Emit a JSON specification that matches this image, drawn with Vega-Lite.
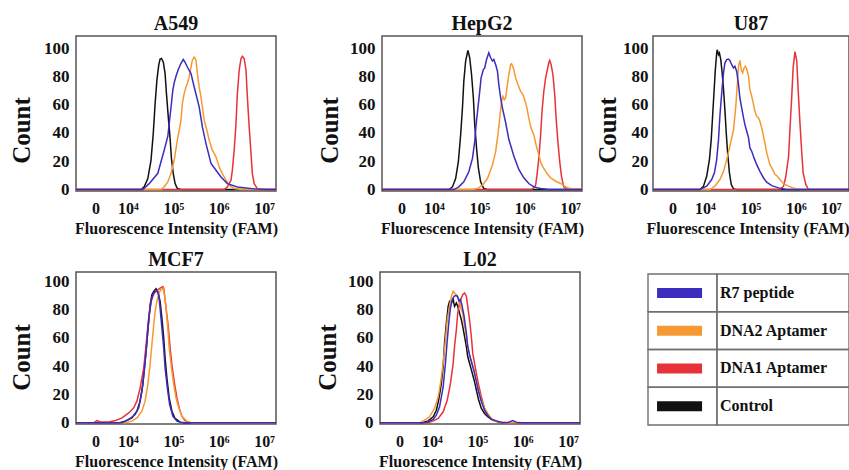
{
  "$schema": "https://vega.github.io/schema/vega-lite/v6.json",
  "padding": {"left": 8, "top": 13, "right": 0, "bottom": 0},
  "background": "white",
  "config": {
    "font": "Liberation Serif",
    "view": {"stroke": "#555555", "strokeWidth": 1.5},
    "axis": {"domain": false, "ticks": false, "grid": false, "labelFont": "Liberation Serif", "labelFontWeight": "bold", "labelColor": "#111111", "titleFont": "Liberation Serif", "titleFontWeight": "bold", "titleColor": "#111111"},
    "axisX": {"labelFontSize": 16, "labelPadding": 9, "titleFontSize": 16, "titlePadding": 4},
    "axisY": {"labelFontSize": 17, "labelPadding": 7, "titleFontSize": 25, "titlePadding": 9},
    "title": {"font": "Liberation Serif", "fontSize": 20, "fontWeight": "bold", "color": "#111111", "offset": 2},
    "line": {"strokeWidth": 1.5}
  },
  "datasets": {
    "curves": [
      {"cell":"A549","series":"Control","x":2.86,"y":0},{"cell":"A549","series":"Control","x":4.29,"y":0},{"cell":"A549","series":"Control","x":4.36,"y":1.9},{"cell":"A549","series":"Control","x":4.44,"y":7.8},{"cell":"A549","series":"Control","x":4.51,"y":20.7},{"cell":"A549","series":"Control","x":4.56,"y":39.6},{"cell":"A549","series":"Control","x":4.6,"y":60.5},{"cell":"A549","series":"Control","x":4.64,"y":77.3},{"cell":"A549","series":"Control","x":4.68,"y":87.9},{"cell":"A549","series":"Control","x":4.71,"y":92.2},{"cell":"A549","series":"Control","x":4.74,"y":92.6},{"cell":"A549","series":"Control","x":4.78,"y":90.2},{"cell":"A549","series":"Control","x":4.82,"y":82},{"cell":"A549","series":"Control","x":4.85,"y":67.8},{"cell":"A549","series":"Control","x":4.89,"y":51.4},{"cell":"A549","series":"Control","x":4.93,"y":36},{"cell":"A549","series":"Control","x":4.96,"y":21.9},{"cell":"A549","series":"Control","x":5,"y":11.3},{"cell":"A549","series":"Control","x":5.04,"y":4.2},{"cell":"A549","series":"Control","x":5.09,"y":0.7},{"cell":"A549","series":"Control","x":5.17,"y":0},{"cell":"A549","series":"Control","x":7.26,"y":0},
      {"cell":"A549","series":"DNA1 Aptamer","x":2.86,"y":0},{"cell":"A549","series":"DNA1 Aptamer","x":6.12,"y":0},{"cell":"A549","series":"DNA1 Aptamer","x":6.19,"y":1.9},{"cell":"A549","series":"DNA1 Aptamer","x":6.27,"y":6.6},{"cell":"A549","series":"DNA1 Aptamer","x":6.3,"y":13.7},{"cell":"A549","series":"DNA1 Aptamer","x":6.34,"y":27.8},{"cell":"A549","series":"DNA1 Aptamer","x":6.38,"y":46.6},{"cell":"A549","series":"DNA1 Aptamer","x":6.41,"y":67.8},{"cell":"A549","series":"DNA1 Aptamer","x":6.45,"y":84.3},{"cell":"A549","series":"DNA1 Aptamer","x":6.49,"y":92.6},{"cell":"A549","series":"DNA1 Aptamer","x":6.52,"y":94.2},{"cell":"A549","series":"DNA1 Aptamer","x":6.56,"y":92.6},{"cell":"A549","series":"DNA1 Aptamer","x":6.6,"y":84.3},{"cell":"A549","series":"DNA1 Aptamer","x":6.63,"y":65.5},{"cell":"A549","series":"DNA1 Aptamer","x":6.67,"y":44.3},{"cell":"A549","series":"DNA1 Aptamer","x":6.71,"y":25.4},{"cell":"A549","series":"DNA1 Aptamer","x":6.74,"y":11.3},{"cell":"A549","series":"DNA1 Aptamer","x":6.78,"y":4.2},{"cell":"A549","series":"DNA1 Aptamer","x":6.85,"y":0.7},{"cell":"A549","series":"DNA1 Aptamer","x":6.93,"y":0},{"cell":"A549","series":"DNA1 Aptamer","x":7.26,"y":0},
      {"cell":"A549","series":"DNA2 Aptamer","x":2.86,"y":0},{"cell":"A549","series":"DNA2 Aptamer","x":4.73,"y":0},{"cell":"A549","series":"DNA2 Aptamer","x":4.8,"y":1.9},{"cell":"A549","series":"DNA2 Aptamer","x":4.88,"y":5.4},{"cell":"A549","series":"DNA2 Aptamer","x":4.95,"y":11.3},{"cell":"A549","series":"DNA2 Aptamer","x":5.02,"y":20.7},{"cell":"A549","series":"DNA2 Aptamer","x":5.09,"y":34.9},{"cell":"A549","series":"DNA2 Aptamer","x":5.17,"y":49},{"cell":"A549","series":"DNA2 Aptamer","x":5.2,"y":60.8},{"cell":"A549","series":"DNA2 Aptamer","x":5.24,"y":67.8},{"cell":"A549","series":"DNA2 Aptamer","x":5.28,"y":72.5},{"cell":"A549","series":"DNA2 Aptamer","x":5.31,"y":74.9},{"cell":"A549","series":"DNA2 Aptamer","x":5.35,"y":79.6},{"cell":"A549","series":"DNA2 Aptamer","x":5.39,"y":86.6},{"cell":"A549","series":"DNA2 Aptamer","x":5.42,"y":91.4},{"cell":"A549","series":"DNA2 Aptamer","x":5.46,"y":93.7},{"cell":"A549","series":"DNA2 Aptamer","x":5.5,"y":91.4},{"cell":"A549","series":"DNA2 Aptamer","x":5.53,"y":81.9},{"cell":"A549","series":"DNA2 Aptamer","x":5.57,"y":72.5},{"cell":"A549","series":"DNA2 Aptamer","x":5.61,"y":65.5},{"cell":"A549","series":"DNA2 Aptamer","x":5.64,"y":58.4},{"cell":"A549","series":"DNA2 Aptamer","x":5.68,"y":49},{"cell":"A549","series":"DNA2 Aptamer","x":5.74,"y":41.9},{"cell":"A549","series":"DNA2 Aptamer","x":5.79,"y":34.9},{"cell":"A549","series":"DNA2 Aptamer","x":5.86,"y":27.8},{"cell":"A549","series":"DNA2 Aptamer","x":5.94,"y":23.1},{"cell":"A549","series":"DNA2 Aptamer","x":6.01,"y":16},{"cell":"A549","series":"DNA2 Aptamer","x":6.08,"y":11.3},{"cell":"A549","series":"DNA2 Aptamer","x":6.16,"y":6.6},{"cell":"A549","series":"DNA2 Aptamer","x":6.23,"y":3.1},{"cell":"A549","series":"DNA2 Aptamer","x":6.34,"y":0.7},{"cell":"A549","series":"DNA2 Aptamer","x":6.49,"y":0},{"cell":"A549","series":"DNA2 Aptamer","x":7.26,"y":0},
      {"cell":"A549","series":"R7 peptide","x":2.86,"y":0},{"cell":"A549","series":"R7 peptide","x":4.33,"y":0},{"cell":"A549","series":"R7 peptide","x":4.47,"y":4.2},{"cell":"A549","series":"R7 peptide","x":4.66,"y":11.5},{"cell":"A549","series":"R7 peptide","x":4.8,"y":27.8},{"cell":"A549","series":"R7 peptide","x":4.88,"y":37.7},{"cell":"A549","series":"R7 peptide","x":4.95,"y":58},{"cell":"A549","series":"R7 peptide","x":4.99,"y":70.2},{"cell":"A549","series":"R7 peptide","x":5.02,"y":75.4},{"cell":"A549","series":"R7 peptide","x":5.06,"y":80.1},{"cell":"A549","series":"R7 peptide","x":5.11,"y":84.8},{"cell":"A549","series":"R7 peptide","x":5.17,"y":89.2},{"cell":"A549","series":"R7 peptide","x":5.22,"y":91.9},{"cell":"A549","series":"R7 peptide","x":5.26,"y":89.8},{"cell":"A549","series":"R7 peptide","x":5.31,"y":86.6},{"cell":"A549","series":"R7 peptide","x":5.39,"y":82},{"cell":"A549","series":"R7 peptide","x":5.46,"y":72.5},{"cell":"A549","series":"R7 peptide","x":5.57,"y":58.4},{"cell":"A549","series":"R7 peptide","x":5.64,"y":44.3},{"cell":"A549","series":"R7 peptide","x":5.72,"y":32.5},{"cell":"A549","series":"R7 peptide","x":5.83,"y":18.4},{"cell":"A549","series":"R7 peptide","x":5.94,"y":13.7},{"cell":"A549","series":"R7 peptide","x":6.05,"y":8.9},{"cell":"A549","series":"R7 peptide","x":6.19,"y":4.2},{"cell":"A549","series":"R7 peptide","x":6.41,"y":1.9},{"cell":"A549","series":"R7 peptide","x":6.78,"y":0.5},{"cell":"A549","series":"R7 peptide","x":7.07,"y":0},{"cell":"A549","series":"R7 peptide","x":7.26,"y":0},

      {"cell":"HepG2","series":"Control","x":2.86,"y":0},{"cell":"HepG2","series":"Control","x":4.33,"y":0},{"cell":"HepG2","series":"Control","x":4.41,"y":1.9},{"cell":"HepG2","series":"Control","x":4.48,"y":7.8},{"cell":"HepG2","series":"Control","x":4.54,"y":19.7},{"cell":"HepG2","series":"Control","x":4.59,"y":38.6},{"cell":"HepG2","series":"Control","x":4.63,"y":57.6},{"cell":"HepG2","series":"Control","x":4.66,"y":76.5},{"cell":"HepG2","series":"Control","x":4.7,"y":90.8},{"cell":"HepG2","series":"Control","x":4.75,"y":98.3},{"cell":"HepG2","series":"Control","x":4.79,"y":93.1},{"cell":"HepG2","series":"Control","x":4.83,"y":81.3},{"cell":"HepG2","series":"Control","x":4.87,"y":64.9},{"cell":"HepG2","series":"Control","x":4.9,"y":45.9},{"cell":"HepG2","series":"Control","x":4.94,"y":29.4},{"cell":"HepG2","series":"Control","x":4.98,"y":15.4},{"cell":"HepG2","series":"Control","x":5.03,"y":5.5},{"cell":"HepG2","series":"Control","x":5.1,"y":0.7},{"cell":"HepG2","series":"Control","x":5.18,"y":0},{"cell":"HepG2","series":"Control","x":7.26,"y":0},
      {"cell":"HepG2","series":"DNA1 Aptamer","x":2.86,"y":0},{"cell":"HepG2","series":"DNA1 Aptamer","x":6.16,"y":0},{"cell":"HepG2","series":"DNA1 Aptamer","x":6.24,"y":3.1},{"cell":"HepG2","series":"DNA1 Aptamer","x":6.27,"y":10.2},{"cell":"HepG2","series":"DNA1 Aptamer","x":6.31,"y":22},{"cell":"HepG2","series":"DNA1 Aptamer","x":6.35,"y":38.6},{"cell":"HepG2","series":"DNA1 Aptamer","x":6.38,"y":55.2},{"cell":"HepG2","series":"DNA1 Aptamer","x":6.42,"y":69.4},{"cell":"HepG2","series":"DNA1 Aptamer","x":6.46,"y":78.9},{"cell":"HepG2","series":"DNA1 Aptamer","x":6.49,"y":83.6},{"cell":"HepG2","series":"DNA1 Aptamer","x":6.53,"y":89.6},{"cell":"HepG2","series":"DNA1 Aptamer","x":6.55,"y":91.2},{"cell":"HepG2","series":"DNA1 Aptamer","x":6.58,"y":88.4},{"cell":"HepG2","series":"DNA1 Aptamer","x":6.62,"y":81.3},{"cell":"HepG2","series":"DNA1 Aptamer","x":6.66,"y":67.1},{"cell":"HepG2","series":"DNA1 Aptamer","x":6.69,"y":50.5},{"cell":"HepG2","series":"DNA1 Aptamer","x":6.73,"y":33.9},{"cell":"HepG2","series":"DNA1 Aptamer","x":6.77,"y":19.7},{"cell":"HepG2","series":"DNA1 Aptamer","x":6.81,"y":9},{"cell":"HepG2","series":"DNA1 Aptamer","x":6.86,"y":1.9},{"cell":"HepG2","series":"DNA1 Aptamer","x":6.93,"y":0},{"cell":"HepG2","series":"DNA1 Aptamer","x":7.26,"y":0},
      {"cell":"HepG2","series":"DNA2 Aptamer","x":2.86,"y":0},{"cell":"HepG2","series":"DNA2 Aptamer","x":4.85,"y":0},{"cell":"HepG2","series":"DNA2 Aptamer","x":4.96,"y":0.7},{"cell":"HepG2","series":"DNA2 Aptamer","x":5.07,"y":3.1},{"cell":"HepG2","series":"DNA2 Aptamer","x":5.18,"y":7.8},{"cell":"HepG2","series":"DNA2 Aptamer","x":5.29,"y":17.3},{"cell":"HepG2","series":"DNA2 Aptamer","x":5.36,"y":26.8},{"cell":"HepG2","series":"DNA2 Aptamer","x":5.41,"y":38.6},{"cell":"HepG2","series":"DNA2 Aptamer","x":5.45,"y":50.5},{"cell":"HepG2","series":"DNA2 Aptamer","x":5.49,"y":62.3},{"cell":"HepG2","series":"DNA2 Aptamer","x":5.52,"y":65.9},{"cell":"HepG2","series":"DNA2 Aptamer","x":5.55,"y":63.5},{"cell":"HepG2","series":"DNA2 Aptamer","x":5.58,"y":64.7},{"cell":"HepG2","series":"DNA2 Aptamer","x":5.61,"y":71.8},{"cell":"HepG2","series":"DNA2 Aptamer","x":5.65,"y":81.3},{"cell":"HepG2","series":"DNA2 Aptamer","x":5.69,"y":88.4},{"cell":"HepG2","series":"DNA2 Aptamer","x":5.71,"y":88.9},{"cell":"HepG2","series":"DNA2 Aptamer","x":5.75,"y":86},{"cell":"HepG2","series":"DNA2 Aptamer","x":5.8,"y":78.9},{"cell":"HepG2","series":"DNA2 Aptamer","x":5.85,"y":74.2},{"cell":"HepG2","series":"DNA2 Aptamer","x":5.91,"y":69.4},{"cell":"HepG2","series":"DNA2 Aptamer","x":5.96,"y":67.1},{"cell":"HepG2","series":"DNA2 Aptamer","x":6,"y":63.5},{"cell":"HepG2","series":"DNA2 Aptamer","x":6.05,"y":57.6},{"cell":"HepG2","series":"DNA2 Aptamer","x":6.09,"y":50.5},{"cell":"HepG2","series":"DNA2 Aptamer","x":6.14,"y":43.4},{"cell":"HepG2","series":"DNA2 Aptamer","x":6.2,"y":38.6},{"cell":"HepG2","series":"DNA2 Aptamer","x":6.25,"y":31.5},{"cell":"HepG2","series":"DNA2 Aptamer","x":6.31,"y":24.4},{"cell":"HepG2","series":"DNA2 Aptamer","x":6.36,"y":18.5},{"cell":"HepG2","series":"DNA2 Aptamer","x":6.42,"y":14.9},{"cell":"HepG2","series":"DNA2 Aptamer","x":6.49,"y":11.4},{"cell":"HepG2","series":"DNA2 Aptamer","x":6.57,"y":8.3},{"cell":"HepG2","series":"DNA2 Aptamer","x":6.68,"y":5.9},{"cell":"HepG2","series":"DNA2 Aptamer","x":6.79,"y":4.3},{"cell":"HepG2","series":"DNA2 Aptamer","x":6.9,"y":1.9},{"cell":"HepG2","series":"DNA2 Aptamer","x":7.01,"y":0.7},{"cell":"HepG2","series":"DNA2 Aptamer","x":7.12,"y":0.3},{"cell":"HepG2","series":"DNA2 Aptamer","x":7.26,"y":0.3},
      {"cell":"HepG2","series":"R7 peptide","x":2.86,"y":0},{"cell":"HepG2","series":"R7 peptide","x":4.44,"y":0},{"cell":"HepG2","series":"R7 peptide","x":4.55,"y":1.9},{"cell":"HepG2","series":"R7 peptide","x":4.66,"y":5.5},{"cell":"HepG2","series":"R7 peptide","x":4.77,"y":12.6},{"cell":"HepG2","series":"R7 peptide","x":4.85,"y":22},{"cell":"HepG2","series":"R7 peptide","x":4.9,"y":33.9},{"cell":"HepG2","series":"R7 peptide","x":4.93,"y":45.7},{"cell":"HepG2","series":"R7 peptide","x":4.97,"y":57.6},{"cell":"HepG2","series":"R7 peptide","x":5.01,"y":69.4},{"cell":"HepG2","series":"R7 peptide","x":5.04,"y":78.9},{"cell":"HepG2","series":"R7 peptide","x":5.09,"y":84.8},{"cell":"HepG2","series":"R7 peptide","x":5.12,"y":86},{"cell":"HepG2","series":"R7 peptide","x":5.16,"y":91.9},{"cell":"HepG2","series":"R7 peptide","x":5.21,"y":96.7},{"cell":"HepG2","series":"R7 peptide","x":5.25,"y":93.1},{"cell":"HepG2","series":"R7 peptide","x":5.29,"y":90.8},{"cell":"HepG2","series":"R7 peptide","x":5.32,"y":91.9},{"cell":"HepG2","series":"R7 peptide","x":5.36,"y":88.4},{"cell":"HepG2","series":"R7 peptide","x":5.4,"y":83.6},{"cell":"HepG2","series":"R7 peptide","x":5.43,"y":74.2},{"cell":"HepG2","series":"R7 peptide","x":5.47,"y":64.7},{"cell":"HepG2","series":"R7 peptide","x":5.51,"y":57.6},{"cell":"HepG2","series":"R7 peptide","x":5.58,"y":47.4},{"cell":"HepG2","series":"R7 peptide","x":5.65,"y":35.5},{"cell":"HepG2","series":"R7 peptide","x":5.76,"y":23.7},{"cell":"HepG2","series":"R7 peptide","x":5.87,"y":14.2},{"cell":"HepG2","series":"R7 peptide","x":5.98,"y":8.3},{"cell":"HepG2","series":"R7 peptide","x":6.09,"y":4.3},{"cell":"HepG2","series":"R7 peptide","x":6.2,"y":1.9},{"cell":"HepG2","series":"R7 peptide","x":6.35,"y":0.7},{"cell":"HepG2","series":"R7 peptide","x":6.53,"y":0},{"cell":"HepG2","series":"R7 peptide","x":7.26,"y":0},

      {"cell":"U87","series":"Control","x":2.86,"y":0},{"cell":"U87","series":"Control","x":3.89,"y":0},{"cell":"U87","series":"Control","x":3.97,"y":2.4},{"cell":"U87","series":"Control","x":4.04,"y":9.4},{"cell":"U87","series":"Control","x":4.1,"y":21.2},{"cell":"U87","series":"Control","x":4.14,"y":35.3},{"cell":"U87","series":"Control","x":4.17,"y":51.8},{"cell":"U87","series":"Control","x":4.2,"y":68.2},{"cell":"U87","series":"Control","x":4.23,"y":84.7},{"cell":"U87","series":"Control","x":4.26,"y":96.5},{"cell":"U87","series":"Control","x":4.27,"y":98.8},{"cell":"U87","series":"Control","x":4.3,"y":95.3},{"cell":"U87","series":"Control","x":4.32,"y":96.5},{"cell":"U87","series":"Control","x":4.35,"y":91.8},{"cell":"U87","series":"Control","x":4.38,"y":82.4},{"cell":"U87","series":"Control","x":4.41,"y":70.6},{"cell":"U87","series":"Control","x":4.44,"y":56.5},{"cell":"U87","series":"Control","x":4.47,"y":40},{"cell":"U87","series":"Control","x":4.5,"y":25.9},{"cell":"U87","series":"Control","x":4.54,"y":11.8},{"cell":"U87","series":"Control","x":4.58,"y":3.5},{"cell":"U87","series":"Control","x":4.63,"y":0.5},{"cell":"U87","series":"Control","x":4.7,"y":0},{"cell":"U87","series":"Control","x":7.26,"y":0},
      {"cell":"U87","series":"DNA1 Aptamer","x":2.86,"y":0},{"cell":"U87","series":"DNA1 Aptamer","x":5.65,"y":0},{"cell":"U87","series":"DNA1 Aptamer","x":5.73,"y":2.4},{"cell":"U87","series":"DNA1 Aptamer","x":5.78,"y":9.4},{"cell":"U87","series":"DNA1 Aptamer","x":5.84,"y":23.5},{"cell":"U87","series":"DNA1 Aptamer","x":5.87,"y":42.4},{"cell":"U87","series":"DNA1 Aptamer","x":5.91,"y":65.9},{"cell":"U87","series":"DNA1 Aptamer","x":5.94,"y":86},{"cell":"U87","series":"DNA1 Aptamer","x":5.98,"y":97.5},{"cell":"U87","series":"DNA1 Aptamer","x":6.02,"y":90.8},{"cell":"U87","series":"DNA1 Aptamer","x":6.05,"y":70.6},{"cell":"U87","series":"DNA1 Aptamer","x":6.09,"y":47.1},{"cell":"U87","series":"DNA1 Aptamer","x":6.13,"y":25.9},{"cell":"U87","series":"DNA1 Aptamer","x":6.16,"y":11.8},{"cell":"U87","series":"DNA1 Aptamer","x":6.22,"y":3.5},{"cell":"U87","series":"DNA1 Aptamer","x":6.27,"y":0.5},{"cell":"U87","series":"DNA1 Aptamer","x":6.35,"y":0},{"cell":"U87","series":"DNA1 Aptamer","x":7.26,"y":0},
      {"cell":"U87","series":"DNA2 Aptamer","x":2.86,"y":0},{"cell":"U87","series":"DNA2 Aptamer","x":4.11,"y":0},{"cell":"U87","series":"DNA2 Aptamer","x":4.22,"y":2.4},{"cell":"U87","series":"DNA2 Aptamer","x":4.33,"y":7.1},{"cell":"U87","series":"DNA2 Aptamer","x":4.41,"y":12.9},{"cell":"U87","series":"DNA2 Aptamer","x":4.48,"y":21.2},{"cell":"U87","series":"DNA2 Aptamer","x":4.55,"y":30.6},{"cell":"U87","series":"DNA2 Aptamer","x":4.63,"y":42.4},{"cell":"U87","series":"DNA2 Aptamer","x":4.68,"y":58.8},{"cell":"U87","series":"DNA2 Aptamer","x":4.71,"y":72.9},{"cell":"U87","series":"DNA2 Aptamer","x":4.74,"y":87.1},{"cell":"U87","series":"DNA2 Aptamer","x":4.77,"y":91.3},{"cell":"U87","series":"DNA2 Aptamer","x":4.8,"y":84.7},{"cell":"U87","series":"DNA2 Aptamer","x":4.83,"y":82.4},{"cell":"U87","series":"DNA2 Aptamer","x":4.86,"y":85.9},{"cell":"U87","series":"DNA2 Aptamer","x":4.89,"y":87.1},{"cell":"U87","series":"DNA2 Aptamer","x":4.92,"y":85.2},{"cell":"U87","series":"DNA2 Aptamer","x":4.96,"y":80},{"cell":"U87","series":"DNA2 Aptamer","x":4.99,"y":70.6},{"cell":"U87","series":"DNA2 Aptamer","x":5.03,"y":65.9},{"cell":"U87","series":"DNA2 Aptamer","x":5.07,"y":60},{"cell":"U87","series":"DNA2 Aptamer","x":5.1,"y":55.3},{"cell":"U87","series":"DNA2 Aptamer","x":5.14,"y":51.8},{"cell":"U87","series":"DNA2 Aptamer","x":5.18,"y":50.6},{"cell":"U87","series":"DNA2 Aptamer","x":5.21,"y":48.2},{"cell":"U87","series":"DNA2 Aptamer","x":5.25,"y":43.5},{"cell":"U87","series":"DNA2 Aptamer","x":5.29,"y":37.6},{"cell":"U87","series":"DNA2 Aptamer","x":5.32,"y":32.9},{"cell":"U87","series":"DNA2 Aptamer","x":5.36,"y":25.9},{"cell":"U87","series":"DNA2 Aptamer","x":5.4,"y":21.2},{"cell":"U87","series":"DNA2 Aptamer","x":5.43,"y":17.6},{"cell":"U87","series":"DNA2 Aptamer","x":5.47,"y":15.3},{"cell":"U87","series":"DNA2 Aptamer","x":5.51,"y":12.9},{"cell":"U87","series":"DNA2 Aptamer","x":5.54,"y":10.6},{"cell":"U87","series":"DNA2 Aptamer","x":5.58,"y":9.9},{"cell":"U87","series":"DNA2 Aptamer","x":5.62,"y":8.2},{"cell":"U87","series":"DNA2 Aptamer","x":5.65,"y":7.1},{"cell":"U87","series":"DNA2 Aptamer","x":5.73,"y":4.2},{"cell":"U87","series":"DNA2 Aptamer","x":5.84,"y":2.4},{"cell":"U87","series":"DNA2 Aptamer","x":5.94,"y":1.2},{"cell":"U87","series":"DNA2 Aptamer","x":6.09,"y":0},{"cell":"U87","series":"DNA2 Aptamer","x":7.26,"y":0},
      {"cell":"U87","series":"R7 peptide","x":2.86,"y":0},{"cell":"U87","series":"R7 peptide","x":3.89,"y":0},{"cell":"U87","series":"R7 peptide","x":4.04,"y":2.4},{"cell":"U87","series":"R7 peptide","x":4.15,"y":7.1},{"cell":"U87","series":"R7 peptide","x":4.21,"y":11.8},{"cell":"U87","series":"R7 peptide","x":4.26,"y":21.2},{"cell":"U87","series":"R7 peptide","x":4.3,"y":35.3},{"cell":"U87","series":"R7 peptide","x":4.33,"y":51.8},{"cell":"U87","series":"R7 peptide","x":4.37,"y":68.2},{"cell":"U87","series":"R7 peptide","x":4.41,"y":82.4},{"cell":"U87","series":"R7 peptide","x":4.44,"y":89.4},{"cell":"U87","series":"R7 peptide","x":4.48,"y":91.8},{"cell":"U87","series":"R7 peptide","x":4.52,"y":92.2},{"cell":"U87","series":"R7 peptide","x":4.55,"y":91.3},{"cell":"U87","series":"R7 peptide","x":4.59,"y":88.2},{"cell":"U87","series":"R7 peptide","x":4.63,"y":85.9},{"cell":"U87","series":"R7 peptide","x":4.66,"y":87.1},{"cell":"U87","series":"R7 peptide","x":4.7,"y":83.5},{"cell":"U87","series":"R7 peptide","x":4.74,"y":74.1},{"cell":"U87","series":"R7 peptide","x":4.77,"y":64.7},{"cell":"U87","series":"R7 peptide","x":4.81,"y":57.6},{"cell":"U87","series":"R7 peptide","x":4.85,"y":50.6},{"cell":"U87","series":"R7 peptide","x":4.88,"y":45.9},{"cell":"U87","series":"R7 peptide","x":4.92,"y":41.2},{"cell":"U87","series":"R7 peptide","x":4.96,"y":36.5},{"cell":"U87","series":"R7 peptide","x":4.99,"y":29.4},{"cell":"U87","series":"R7 peptide","x":5.03,"y":27.1},{"cell":"U87","series":"R7 peptide","x":5.08,"y":22.4},{"cell":"U87","series":"R7 peptide","x":5.14,"y":17.6},{"cell":"U87","series":"R7 peptide","x":5.21,"y":12.9},{"cell":"U87","series":"R7 peptide","x":5.29,"y":8.2},{"cell":"U87","series":"R7 peptide","x":5.36,"y":5.2},{"cell":"U87","series":"R7 peptide","x":5.47,"y":2.8},{"cell":"U87","series":"R7 peptide","x":5.62,"y":1.2},{"cell":"U87","series":"R7 peptide","x":5.8,"y":0},{"cell":"U87","series":"R7 peptide","x":7.26,"y":0},

      {"cell":"MCF7","series":"Control","x":2.86,"y":0},{"cell":"MCF7","series":"Control","x":3.8,"y":0},{"cell":"MCF7","series":"Control","x":3.94,"y":1.2},{"cell":"MCF7","series":"Control","x":4.09,"y":3.5},{"cell":"MCF7","series":"Control","x":4.2,"y":8.2},{"cell":"MCF7","series":"Control","x":4.27,"y":15.3},{"cell":"MCF7","series":"Control","x":4.33,"y":27},{"cell":"MCF7","series":"Control","x":4.38,"y":43.4},{"cell":"MCF7","series":"Control","x":4.42,"y":57.5},{"cell":"MCF7","series":"Control","x":4.46,"y":71.6},{"cell":"MCF7","series":"Control","x":4.49,"y":83.3},{"cell":"MCF7","series":"Control","x":4.53,"y":90.4},{"cell":"MCF7","series":"Control","x":4.57,"y":92.7},{"cell":"MCF7","series":"Control","x":4.62,"y":94.6},{"cell":"MCF7","series":"Control","x":4.66,"y":92.7},{"cell":"MCF7","series":"Control","x":4.71,"y":85.7},{"cell":"MCF7","series":"Control","x":4.75,"y":73.9},{"cell":"MCF7","series":"Control","x":4.79,"y":59.9},{"cell":"MCF7","series":"Control","x":4.82,"y":45.8},{"cell":"MCF7","series":"Control","x":4.86,"y":31.7},{"cell":"MCF7","series":"Control","x":4.91,"y":17.6},{"cell":"MCF7","series":"Control","x":4.97,"y":8.2},{"cell":"MCF7","series":"Control","x":5.04,"y":3.1},{"cell":"MCF7","series":"Control","x":5.15,"y":0.5},{"cell":"MCF7","series":"Control","x":5.26,"y":0},{"cell":"MCF7","series":"Control","x":7.26,"y":0},
      {"cell":"MCF7","series":"DNA1 Aptamer","x":2.86,"y":0},{"cell":"MCF7","series":"DNA1 Aptamer","x":3.25,"y":0},{"cell":"MCF7","series":"DNA1 Aptamer","x":3.32,"y":1.6},{"cell":"MCF7","series":"DNA1 Aptamer","x":3.4,"y":0.7},{"cell":"MCF7","series":"DNA1 Aptamer","x":3.58,"y":0.7},{"cell":"MCF7","series":"DNA1 Aptamer","x":3.73,"y":1.6},{"cell":"MCF7","series":"DNA1 Aptamer","x":3.87,"y":3.5},{"cell":"MCF7","series":"DNA1 Aptamer","x":4.02,"y":7},{"cell":"MCF7","series":"DNA1 Aptamer","x":4.13,"y":10.6},{"cell":"MCF7","series":"DNA1 Aptamer","x":4.2,"y":15.3},{"cell":"MCF7","series":"DNA1 Aptamer","x":4.27,"y":24.6},{"cell":"MCF7","series":"DNA1 Aptamer","x":4.35,"y":38.7},{"cell":"MCF7","series":"DNA1 Aptamer","x":4.41,"y":57.5},{"cell":"MCF7","series":"DNA1 Aptamer","x":4.46,"y":73.9},{"cell":"MCF7","series":"DNA1 Aptamer","x":4.51,"y":85.7},{"cell":"MCF7","series":"DNA1 Aptamer","x":4.55,"y":89.2},{"cell":"MCF7","series":"DNA1 Aptamer","x":4.58,"y":91.5},{"cell":"MCF7","series":"DNA1 Aptamer","x":4.62,"y":92.7},{"cell":"MCF7","series":"DNA1 Aptamer","x":4.66,"y":93.9},{"cell":"MCF7","series":"DNA1 Aptamer","x":4.71,"y":95.1},{"cell":"MCF7","series":"DNA1 Aptamer","x":4.77,"y":96.2},{"cell":"MCF7","series":"DNA1 Aptamer","x":4.79,"y":95.1},{"cell":"MCF7","series":"DNA1 Aptamer","x":4.82,"y":86.9},{"cell":"MCF7","series":"DNA1 Aptamer","x":4.86,"y":76.3},{"cell":"MCF7","series":"DNA1 Aptamer","x":4.9,"y":64.6},{"cell":"MCF7","series":"DNA1 Aptamer","x":4.93,"y":52.8},{"cell":"MCF7","series":"DNA1 Aptamer","x":4.97,"y":41.1},{"cell":"MCF7","series":"DNA1 Aptamer","x":5.02,"y":29.3},{"cell":"MCF7","series":"DNA1 Aptamer","x":5.08,"y":17.6},{"cell":"MCF7","series":"DNA1 Aptamer","x":5.14,"y":9.4},{"cell":"MCF7","series":"DNA1 Aptamer","x":5.19,"y":4.7},{"cell":"MCF7","series":"DNA1 Aptamer","x":5.26,"y":1.6},{"cell":"MCF7","series":"DNA1 Aptamer","x":5.37,"y":0},{"cell":"MCF7","series":"DNA1 Aptamer","x":7.26,"y":0},
      {"cell":"MCF7","series":"DNA2 Aptamer","x":2.86,"y":0},{"cell":"MCF7","series":"DNA2 Aptamer","x":3.94,"y":0},{"cell":"MCF7","series":"DNA2 Aptamer","x":4.09,"y":1.2},{"cell":"MCF7","series":"DNA2 Aptamer","x":4.2,"y":3.5},{"cell":"MCF7","series":"DNA2 Aptamer","x":4.31,"y":8.2},{"cell":"MCF7","series":"DNA2 Aptamer","x":4.38,"y":15.3},{"cell":"MCF7","series":"DNA2 Aptamer","x":4.44,"y":27},{"cell":"MCF7","series":"DNA2 Aptamer","x":4.49,"y":41.1},{"cell":"MCF7","series":"DNA2 Aptamer","x":4.53,"y":55.2},{"cell":"MCF7","series":"DNA2 Aptamer","x":4.57,"y":69.2},{"cell":"MCF7","series":"DNA2 Aptamer","x":4.6,"y":78.6},{"cell":"MCF7","series":"DNA2 Aptamer","x":4.64,"y":85.7},{"cell":"MCF7","series":"DNA2 Aptamer","x":4.68,"y":91.5},{"cell":"MCF7","series":"DNA2 Aptamer","x":4.73,"y":93.9},{"cell":"MCF7","series":"DNA2 Aptamer","x":4.77,"y":95.1},{"cell":"MCF7","series":"DNA2 Aptamer","x":4.81,"y":90.4},{"cell":"MCF7","series":"DNA2 Aptamer","x":4.84,"y":81},{"cell":"MCF7","series":"DNA2 Aptamer","x":4.88,"y":66.9},{"cell":"MCF7","series":"DNA2 Aptamer","x":4.91,"y":52.8},{"cell":"MCF7","series":"DNA2 Aptamer","x":4.96,"y":38.7},{"cell":"MCF7","series":"DNA2 Aptamer","x":5.01,"y":27},{"cell":"MCF7","series":"DNA2 Aptamer","x":5.06,"y":17.6},{"cell":"MCF7","series":"DNA2 Aptamer","x":5.12,"y":10.6},{"cell":"MCF7","series":"DNA2 Aptamer","x":5.19,"y":4.7},{"cell":"MCF7","series":"DNA2 Aptamer","x":5.3,"y":1.2},{"cell":"MCF7","series":"DNA2 Aptamer","x":5.41,"y":0},{"cell":"MCF7","series":"DNA2 Aptamer","x":7.26,"y":0},
      {"cell":"MCF7","series":"R7 peptide","x":2.86,"y":0},{"cell":"MCF7","series":"R7 peptide","x":3.87,"y":0},{"cell":"MCF7","series":"R7 peptide","x":4.02,"y":2.3},{"cell":"MCF7","series":"R7 peptide","x":4.16,"y":5.9},{"cell":"MCF7","series":"R7 peptide","x":4.24,"y":10.6},{"cell":"MCF7","series":"R7 peptide","x":4.31,"y":22.3},{"cell":"MCF7","series":"R7 peptide","x":4.36,"y":36.4},{"cell":"MCF7","series":"R7 peptide","x":4.41,"y":52.8},{"cell":"MCF7","series":"R7 peptide","x":4.44,"y":66.9},{"cell":"MCF7","series":"R7 peptide","x":4.48,"y":78.6},{"cell":"MCF7","series":"R7 peptide","x":4.52,"y":86.9},{"cell":"MCF7","series":"R7 peptide","x":4.55,"y":90.4},{"cell":"MCF7","series":"R7 peptide","x":4.59,"y":92.7},{"cell":"MCF7","series":"R7 peptide","x":4.64,"y":93.2},{"cell":"MCF7","series":"R7 peptide","x":4.68,"y":90.4},{"cell":"MCF7","series":"R7 peptide","x":4.71,"y":81},{"cell":"MCF7","series":"R7 peptide","x":4.75,"y":66.9},{"cell":"MCF7","series":"R7 peptide","x":4.79,"y":52.8},{"cell":"MCF7","series":"R7 peptide","x":4.82,"y":38.7},{"cell":"MCF7","series":"R7 peptide","x":4.87,"y":24.6},{"cell":"MCF7","series":"R7 peptide","x":4.92,"y":12.9},{"cell":"MCF7","series":"R7 peptide","x":4.99,"y":4.7},{"cell":"MCF7","series":"R7 peptide","x":5.08,"y":1.2},{"cell":"MCF7","series":"R7 peptide","x":5.19,"y":0},{"cell":"MCF7","series":"R7 peptide","x":7.26,"y":0},

      {"cell":"L02","series":"Control","x":2.86,"y":0},{"cell":"L02","series":"Control","x":3.77,"y":0},{"cell":"L02","series":"Control","x":3.92,"y":1.4},{"cell":"L02","series":"Control","x":4.03,"y":4.3},{"cell":"L02","series":"Control","x":4.1,"y":8.9},{"cell":"L02","series":"Control","x":4.15,"y":16.1},{"cell":"L02","series":"Control","x":4.21,"y":27.9},{"cell":"L02","series":"Control","x":4.25,"y":39.7},{"cell":"L02","series":"Control","x":4.28,"y":56.3},{"cell":"L02","series":"Control","x":4.32,"y":70.4},{"cell":"L02","series":"Control","x":4.36,"y":82.3},{"cell":"L02","series":"Control","x":4.39,"y":85.8},{"cell":"L02","series":"Control","x":4.43,"y":84.6},{"cell":"L02","series":"Control","x":4.47,"y":87},{"cell":"L02","series":"Control","x":4.5,"y":82.3},{"cell":"L02","series":"Control","x":4.54,"y":84.6},{"cell":"L02","series":"Control","x":4.57,"y":82.3},{"cell":"L02","series":"Control","x":4.61,"y":77.5},{"cell":"L02","series":"Control","x":4.65,"y":72.8},{"cell":"L02","series":"Control","x":4.68,"y":68.1},{"cell":"L02","series":"Control","x":4.72,"y":61},{"cell":"L02","series":"Control","x":4.76,"y":53.9},{"cell":"L02","series":"Control","x":4.79,"y":46.8},{"cell":"L02","series":"Control","x":4.83,"y":42.1},{"cell":"L02","series":"Control","x":4.87,"y":37.4},{"cell":"L02","series":"Control","x":4.93,"y":30.3},{"cell":"L02","series":"Control","x":4.98,"y":23.2},{"cell":"L02","series":"Control","x":5.03,"y":16.1},{"cell":"L02","series":"Control","x":5.09,"y":10.2},{"cell":"L02","series":"Control","x":5.16,"y":6.6},{"cell":"L02","series":"Control","x":5.23,"y":4.3},{"cell":"L02","series":"Control","x":5.31,"y":2.4},{"cell":"L02","series":"Control","x":5.38,"y":1.4},{"cell":"L02","series":"Control","x":5.45,"y":0.7},{"cell":"L02","series":"Control","x":5.56,"y":0},{"cell":"L02","series":"Control","x":7.26,"y":0},
      {"cell":"L02","series":"DNA1 Aptamer","x":2.86,"y":0},{"cell":"L02","series":"DNA1 Aptamer","x":3.92,"y":0},{"cell":"L02","series":"DNA1 Aptamer","x":4.03,"y":1.4},{"cell":"L02","series":"DNA1 Aptamer","x":4.14,"y":3.1},{"cell":"L02","series":"DNA1 Aptamer","x":4.25,"y":7.8},{"cell":"L02","series":"DNA1 Aptamer","x":4.34,"y":16.1},{"cell":"L02","series":"DNA1 Aptamer","x":4.41,"y":27.9},{"cell":"L02","series":"DNA1 Aptamer","x":4.47,"y":42.1},{"cell":"L02","series":"DNA1 Aptamer","x":4.5,"y":53.9},{"cell":"L02","series":"DNA1 Aptamer","x":4.54,"y":65.7},{"cell":"L02","series":"DNA1 Aptamer","x":4.57,"y":77.5},{"cell":"L02","series":"DNA1 Aptamer","x":4.61,"y":84.6},{"cell":"L02","series":"DNA1 Aptamer","x":4.65,"y":88.2},{"cell":"L02","series":"DNA1 Aptamer","x":4.68,"y":90.5},{"cell":"L02","series":"DNA1 Aptamer","x":4.72,"y":91.7},{"cell":"L02","series":"DNA1 Aptamer","x":4.76,"y":89.4},{"cell":"L02","series":"DNA1 Aptamer","x":4.79,"y":82.3},{"cell":"L02","series":"DNA1 Aptamer","x":4.83,"y":72.8},{"cell":"L02","series":"DNA1 Aptamer","x":4.87,"y":61},{"cell":"L02","series":"DNA1 Aptamer","x":4.9,"y":49.2},{"cell":"L02","series":"DNA1 Aptamer","x":4.94,"y":42.1},{"cell":"L02","series":"DNA1 Aptamer","x":4.98,"y":34.9},{"cell":"L02","series":"DNA1 Aptamer","x":5.03,"y":26.7},{"cell":"L02","series":"DNA1 Aptamer","x":5.09,"y":18.4},{"cell":"L02","series":"DNA1 Aptamer","x":5.16,"y":10.2},{"cell":"L02","series":"DNA1 Aptamer","x":5.23,"y":5.4},{"cell":"L02","series":"DNA1 Aptamer","x":5.32,"y":2.4},{"cell":"L02","series":"DNA1 Aptamer","x":5.42,"y":1.2},{"cell":"L02","series":"DNA1 Aptamer","x":5.56,"y":0},{"cell":"L02","series":"DNA1 Aptamer","x":7.26,"y":0},
      {"cell":"L02","series":"DNA2 Aptamer","x":2.86,"y":0},{"cell":"L02","series":"DNA2 Aptamer","x":3.73,"y":0},{"cell":"L02","series":"DNA2 Aptamer","x":3.84,"y":1.9},{"cell":"L02","series":"DNA2 Aptamer","x":3.95,"y":4.3},{"cell":"L02","series":"DNA2 Aptamer","x":4.06,"y":10.2},{"cell":"L02","series":"DNA2 Aptamer","x":4.14,"y":18.4},{"cell":"L02","series":"DNA2 Aptamer","x":4.19,"y":27.9},{"cell":"L02","series":"DNA2 Aptamer","x":4.25,"y":42.1},{"cell":"L02","series":"DNA2 Aptamer","x":4.3,"y":58.6},{"cell":"L02","series":"DNA2 Aptamer","x":4.34,"y":72.8},{"cell":"L02","series":"DNA2 Aptamer","x":4.39,"y":82.3},{"cell":"L02","series":"DNA2 Aptamer","x":4.43,"y":89.4},{"cell":"L02","series":"DNA2 Aptamer","x":4.47,"y":92.9},{"cell":"L02","series":"DNA2 Aptamer","x":4.5,"y":91.7},{"cell":"L02","series":"DNA2 Aptamer","x":4.54,"y":90.5},{"cell":"L02","series":"DNA2 Aptamer","x":4.57,"y":89.4},{"cell":"L02","series":"DNA2 Aptamer","x":4.61,"y":85.8},{"cell":"L02","series":"DNA2 Aptamer","x":4.65,"y":79.9},{"cell":"L02","series":"DNA2 Aptamer","x":4.68,"y":77.5},{"cell":"L02","series":"DNA2 Aptamer","x":4.72,"y":68.1},{"cell":"L02","series":"DNA2 Aptamer","x":4.76,"y":61},{"cell":"L02","series":"DNA2 Aptamer","x":4.79,"y":53.9},{"cell":"L02","series":"DNA2 Aptamer","x":4.83,"y":48},{"cell":"L02","series":"DNA2 Aptamer","x":4.87,"y":43.3},{"cell":"L02","series":"DNA2 Aptamer","x":4.93,"y":37.4},{"cell":"L02","series":"DNA2 Aptamer","x":4.98,"y":30.3},{"cell":"L02","series":"DNA2 Aptamer","x":5.03,"y":23.2},{"cell":"L02","series":"DNA2 Aptamer","x":5.09,"y":16.1},{"cell":"L02","series":"DNA2 Aptamer","x":5.16,"y":10.2},{"cell":"L02","series":"DNA2 Aptamer","x":5.23,"y":6.6},{"cell":"L02","series":"DNA2 Aptamer","x":5.31,"y":3.1},{"cell":"L02","series":"DNA2 Aptamer","x":5.38,"y":1.4},{"cell":"L02","series":"DNA2 Aptamer","x":5.53,"y":0.5},{"cell":"L02","series":"DNA2 Aptamer","x":5.64,"y":0},{"cell":"L02","series":"DNA2 Aptamer","x":7.26,"y":0},
      {"cell":"L02","series":"R7 peptide","x":2.86,"y":0},{"cell":"L02","series":"R7 peptide","x":3.81,"y":0},{"cell":"L02","series":"R7 peptide","x":3.92,"y":0.7},{"cell":"L02","series":"R7 peptide","x":4.03,"y":2.4},{"cell":"L02","series":"R7 peptide","x":4.1,"y":5.4},{"cell":"L02","series":"R7 peptide","x":4.17,"y":11.3},{"cell":"L02","series":"R7 peptide","x":4.25,"y":25.5},{"cell":"L02","series":"R7 peptide","x":4.3,"y":42.1},{"cell":"L02","series":"R7 peptide","x":4.34,"y":58.6},{"cell":"L02","series":"R7 peptide","x":4.38,"y":72.8},{"cell":"L02","series":"R7 peptide","x":4.41,"y":81.1},{"cell":"L02","series":"R7 peptide","x":4.45,"y":87},{"cell":"L02","series":"R7 peptide","x":4.49,"y":89.4},{"cell":"L02","series":"R7 peptide","x":4.52,"y":89.8},{"cell":"L02","series":"R7 peptide","x":4.56,"y":89.4},{"cell":"L02","series":"R7 peptide","x":4.6,"y":85.8},{"cell":"L02","series":"R7 peptide","x":4.63,"y":87},{"cell":"L02","series":"R7 peptide","x":4.66,"y":83.5},{"cell":"L02","series":"R7 peptide","x":4.71,"y":75.2},{"cell":"L02","series":"R7 peptide","x":4.76,"y":63.4},{"cell":"L02","series":"R7 peptide","x":4.79,"y":53.9},{"cell":"L02","series":"R7 peptide","x":4.83,"y":48},{"cell":"L02","series":"R7 peptide","x":4.87,"y":43.3},{"cell":"L02","series":"R7 peptide","x":4.93,"y":36.2},{"cell":"L02","series":"R7 peptide","x":4.98,"y":29.1},{"cell":"L02","series":"R7 peptide","x":5.03,"y":22},{"cell":"L02","series":"R7 peptide","x":5.09,"y":14.9},{"cell":"L02","series":"R7 peptide","x":5.16,"y":8.9},{"cell":"L02","series":"R7 peptide","x":5.23,"y":5.4},{"cell":"L02","series":"R7 peptide","x":5.31,"y":2.6},{"cell":"L02","series":"R7 peptide","x":5.42,"y":1.4},{"cell":"L02","series":"R7 peptide","x":5.53,"y":0.5},{"cell":"L02","series":"R7 peptide","x":5.67,"y":0.2},{"cell":"L02","series":"R7 peptide","x":5.78,"y":1.6},{"cell":"L02","series":"R7 peptide","x":5.88,"y":0.2},{"cell":"L02","series":"R7 peptide","x":6,"y":0},{"cell":"L02","series":"R7 peptide","x":7.26,"y":0}
    ],
    "legendRows": [
      {"series": "R7 peptide"}, {"series": "DNA2 Aptamer"}, {"series": "DNA1 Aptamer"}, {"series": "Control"}
    ]
  },
  "spacing": 12,
  "vconcat": [
    {
      "spacing": 9,
      "hconcat": [
        {
          "spacing": 37,
          "hconcat": [
            {
              "title": "A549",
              "width": 200, "height": 155,
              "data": {"name": "curves"},
              "transform": [{"filter": "datum.cell === 'A549'"}],
              "mark": {"type": "line", "clip": true},
              "encoding": {
                "x": {"field": "x", "type": "quantitative", "scale": {"domain": [2.86, 7.26], "nice": false, "zero": false}, "axis": {"values": [3.29, 4, 5, 6, 7], "labelExpr": "datum.value < 3.5 ? '0' : '10' + (datum.value == 4 ? '⁴' : datum.value == 5 ? '⁵' : datum.value == 6 ? '⁶' : '⁷')", "title": "Fluorescence Intensity (FAM)"}},
                "y": {"field": "y", "type": "quantitative", "scale": {"domain": [-1, 108.5], "nice": false, "zero": false}, "axis": {"values": [0, 20, 40, 60, 80, 100], "title": "Count", "titleY": 94}},
                "color": {"field": "series", "type": "nominal", "scale": {"domain": ["Control", "DNA1 Aptamer", "DNA2 Aptamer", "R7 peptide"], "range": ["#111111", "#e8323a", "#f59a32", "#3b2dbd"]}, "legend": null}
              }
            },
            {
              "title": "HepG2",
              "width": 200, "height": 155,
              "data": {"name": "curves"},
              "transform": [{"filter": "datum.cell === 'HepG2'"}],
              "mark": {"type": "line", "clip": true},
              "encoding": {
                "x": {"field": "x", "type": "quantitative", "scale": {"domain": [2.86, 7.26], "nice": false, "zero": false}, "axis": {"values": [3.29, 4, 5, 6, 7], "labelExpr": "datum.value < 3.5 ? '0' : '10' + (datum.value == 4 ? '⁴' : datum.value == 5 ? '⁵' : datum.value == 6 ? '⁶' : '⁷')", "title": "Fluorescence Intensity (FAM)"}},
                "y": {"field": "y", "type": "quantitative", "scale": {"domain": [-1, 108.5], "nice": false, "zero": false}, "axis": {"values": [0, 20, 40, 60, 80, 100], "title": "Count", "titleY": 94, "titlePadding": 7}},
                "color": {"field": "series", "type": "nominal", "scale": {"domain": ["Control", "DNA1 Aptamer", "DNA2 Aptamer", "R7 peptide"], "range": ["#111111", "#e8323a", "#f59a32", "#3b2dbd"]}, "legend": null}
              }
            }
          ]
        },
        {
          "title": "U87",
          "width": 196, "height": 155,
          "data": {"name": "curves"},
          "transform": [{"filter": "datum.cell === 'U87'"}],
          "mark": {"type": "line", "clip": true},
          "encoding": {
            "x": {"field": "x", "type": "quantitative", "scale": {"domain": [2.86, 7.168], "nice": false, "zero": false}, "axis": {"values": [3.29, 4, 5, 6, 7], "labelExpr": "datum.value < 3.5 ? '0' : '10' + (datum.value == 4 ? '⁴' : datum.value == 5 ? '⁵' : datum.value == 6 ? '⁶' : '⁷')", "labelAlign": {"condition": {"test": "datum.value > 6.5", "value": "right"}, "value": "center"}, "title": "Fluorescence Intensity (FAM)", "titleAnchor": "end"}},
            "y": {"field": "y", "type": "quantitative", "scale": {"domain": [-1, 108.5], "nice": false, "zero": false}, "axis": {"values": [0, 20, 40, 60, 80, 100], "title": "Count", "titleY": 94, "titlePadding": 2, "labelPadding": 5}},
            "color": {"field": "series", "type": "nominal", "scale": {"domain": ["Control", "DNA1 Aptamer", "DNA2 Aptamer", "R7 peptide"], "range": ["#111111", "#e8323a", "#f59a32", "#3b2dbd"]}, "legend": null}
          }
        }
      ]
    },
    {
      "spacing": 64,
      "hconcat": [
        {
          "spacing": 35,
          "hconcat": [
            {
              "title": "MCF7",
              "width": 200, "height": 152,
              "data": {"name": "curves"},
              "transform": [{"filter": "datum.cell === 'MCF7'"}],
              "mark": {"type": "line", "clip": true},
              "encoding": {
                "x": {"field": "x", "type": "quantitative", "scale": {"domain": [2.86, 7.26], "nice": false, "zero": false}, "axis": {"values": [3.29, 4, 5, 6, 7], "labelExpr": "datum.value < 3.5 ? '0' : '10' + (datum.value == 4 ? '⁴' : datum.value == 5 ? '⁵' : datum.value == 6 ? '⁶' : '⁷')", "title": "Fluorescence Intensity (FAM)"}},
                "y": {"field": "y", "type": "quantitative", "scale": {"domain": [-0.8, 106.5], "nice": false, "zero": false}, "axis": {"values": [0, 20, 40, 60, 80, 100], "title": "Count", "titleY": 85}},
                "color": {"field": "series", "type": "nominal", "scale": {"domain": ["Control", "DNA1 Aptamer", "DNA2 Aptamer", "R7 peptide"], "range": ["#111111", "#e8323a", "#f59a32", "#3b2dbd"]}, "legend": null}
              }
            },
            {
              "title": "L02",
              "width": 200, "height": 152,
              "data": {"name": "curves"},
              "transform": [{"filter": "datum.cell === 'L02'"}],
              "mark": {"type": "line", "clip": true},
              "encoding": {
                "x": {"field": "x", "type": "quantitative", "scale": {"domain": [2.86, 7.26], "nice": false, "zero": false}, "axis": {"values": [3.29, 4, 5, 6, 7], "labelExpr": "datum.value < 3.5 ? '0' : '10' + (datum.value == 4 ? '⁴' : datum.value == 5 ? '⁵' : datum.value == 6 ? '⁶' : '⁷')", "title": "Fluorescence Intensity (FAM)"}},
                "y": {"field": "y", "type": "quantitative", "scale": {"domain": [-0.8, 106.5], "nice": false, "zero": false}, "axis": {"values": [0, 20, 40, 60, 80, 100], "title": "Count", "titleY": 85, "titlePadding": 7}},
                "color": {"field": "series", "type": "nominal", "scale": {"domain": ["Control", "DNA1 Aptamer", "DNA2 Aptamer", "R7 peptide"], "range": ["#111111", "#e8323a", "#f59a32", "#3b2dbd"]}, "legend": null}
              }
            }
          ]
        },
        {
          "width": 201, "height": 153,
          "view": {"stroke": null},
          "data": {"name": "legendRows"},
          "layer": [
            {
              "mark": {"type": "rect", "filled": false, "stroke": "#707070", "strokeWidth": 1.4},
              "encoding": {
                "x": {"datum": 0, "type": "quantitative", "scale": {"domain": [0, 1], "nice": false, "zero": false}, "axis": null},
                "x2": {"datum": 0.343},
                "y": {"field": "series", "type": "nominal", "sort": null, "scale": {"domain": ["R7 peptide", "DNA2 Aptamer", "DNA1 Aptamer", "Control"], "paddingInner": 0, "paddingOuter": 0.027, "align": 1}, "axis": null}
              }
            },
            {
              "mark": {"type": "rect", "filled": false, "stroke": "#707070", "strokeWidth": 1.4},
              "encoding": {
                "x": {"datum": 0.343, "type": "quantitative"},
                "x2": {"datum": 1},
                "y": {"field": "series", "type": "nominal", "sort": null}
              }
            },
            {
              "mark": {"type": "rule", "strokeWidth": 10},
              "encoding": {
                "x": {"datum": 0.045, "type": "quantitative"},
                "x2": {"datum": 0.269},
                "y": {"field": "series", "type": "nominal", "sort": null, "bandPosition": 0.5},
                "color": {"field": "series", "type": "nominal", "scale": {"domain": ["Control", "DNA1 Aptamer", "DNA2 Aptamer", "R7 peptide"], "range": ["#111111", "#e8323a", "#f59a32", "#3b2dbd"]}, "legend": null}
              }
            },
            {
              "mark": {"type": "text", "align": "left", "baseline": "middle", "font": "Liberation Serif", "fontWeight": "bold", "fontSize": 16, "color": "#111111"},
              "encoding": {
                "x": {"datum": 0.358, "type": "quantitative"},
                "y": {"field": "series", "type": "nominal", "sort": null, "bandPosition": 0.5},
                "text": {"field": "series"}
              }
            }
          ]
        }
      ]
    }
  ]
}
